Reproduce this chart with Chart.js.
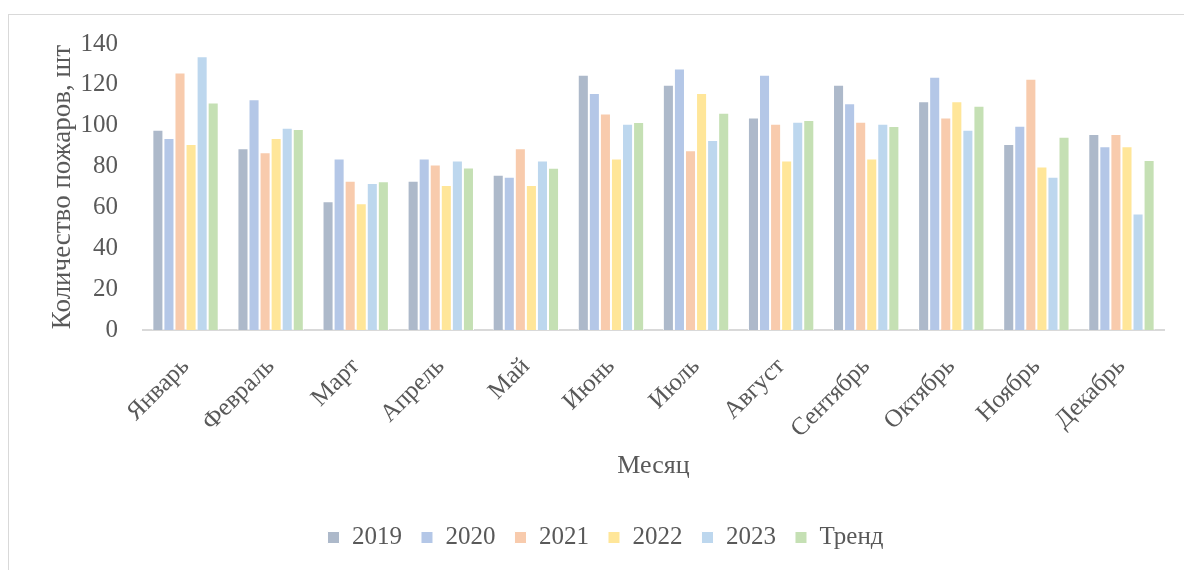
<!DOCTYPE html>
<html>
<head>
<meta charset="utf-8">
<script src="https://cdn.jsdelivr.net/npm/chart.js@4"></script>
<style>
  html, body { margin: 0; padding: 0; background: #fff; }
  .frame { position: absolute; left: 8px; top: 14px; width: 1190px; height: 570px; border: 1px solid #d9d9d9; }
  .wrap { position: absolute; left: 0; top: 0; width: 1184px; height: 570px; }
</style>
</head>
<body>
<div class="frame"></div>
<div class="wrap"><canvas id="fires"></canvas></div>
<script>
const months = ['Январь', 'Февраль', 'Март', 'Апрель', 'Май', 'Июнь', 'Июль', 'Август', 'Сентябрь', 'Октябрь', 'Ноябрь', 'Декабрь'];
const y2019 = [98, 89, 63, 73, 76, 125, 120, 104, 120, 112, 91, 96];
const y2020 = [94, 113, 84, 84, 75, 116, 128, 125, 111, 124, 100, 90];
const y2021 = [126, 87, 73, 81, 89, 106, 88, 101, 102, 104, 123, 96];
const y2022 = [91, 94, 62, 71, 71, 84, 116, 83, 84, 112, 80, 90];
const y2023 = [134, 99, 72, 83, 83, 101, 93, 102, 101, 98, 75, 57];
const trend = [111.4, 98.4, 72.8, 79.6, 79.4, 101.8, 106.4, 102.8, 99.8, 109.8, 94.6, 83.2];

const font = 'Liberation Serif, Times New Roman, serif';
const textColor = '#595959';

function series(label, data, color) {
  return { label, data, backgroundColor: color, borderColor: '#ffffff', borderWidth: 1, barPercentage: 1, categoryPercentage: 0.78 };
}

new Chart(document.getElementById('fires'), {
  type: 'bar',
  data: {
    labels: months,
    datasets: [
      series('2019', y2019, '#adb9ca'),
      series('2020', y2020, '#b4c7e7'),
      series('2021', y2021, '#f8cbad'),
      series('2022', y2022, '#ffe699'),
      series('2023', y2023, '#bdd7ee'),
      series('Тренд', trend, '#c5e0b4')
    ]
  },
  options: {
    responsive: true,
    maintainAspectRatio: false,
    animation: false,
    layout: { padding: { left: 47, top: 44, right: 20, bottom: 10 } },
    plugins: {
      tooltip: { enabled: false },
      legend: {
        position: 'bottom',
        labels: { color: textColor, font: { family: font, size: 25 }, boxWidth: 12, boxHeight: 12, padding: 19 }
      }
    },
    scales: {
      x: {
        grid: { display: false, drawTicks: false },
        border: { color: '#d9d9d9', width: 2 },
        afterFit: (scale) => { scale.height = 176; },
        ticks: { color: textColor, font: { family: font, size: 25 }, minRotation: 45, maxRotation: 45, padding: 22 },
        title: { display: true, text: 'Месяц', color: textColor, font: { family: font, size: 26 }, padding: { top: 12, bottom: 24 } }
      },
      y: {
        min: 0,
        max: 140,
        grid: { display: false, drawTicks: false },
        border: { display: false },
        afterFit: (scale) => { scale.width = 96; },
        ticks: { stepSize: 20, color: textColor, font: { family: font, size: 25 }, padding: 25 },
        title: { display: true, text: 'Количество пожаров, шт', color: textColor, font: { family: font, size: 27 }, padding: 0 }
      }
    }
  }
});
</script>
</body>
</html>
